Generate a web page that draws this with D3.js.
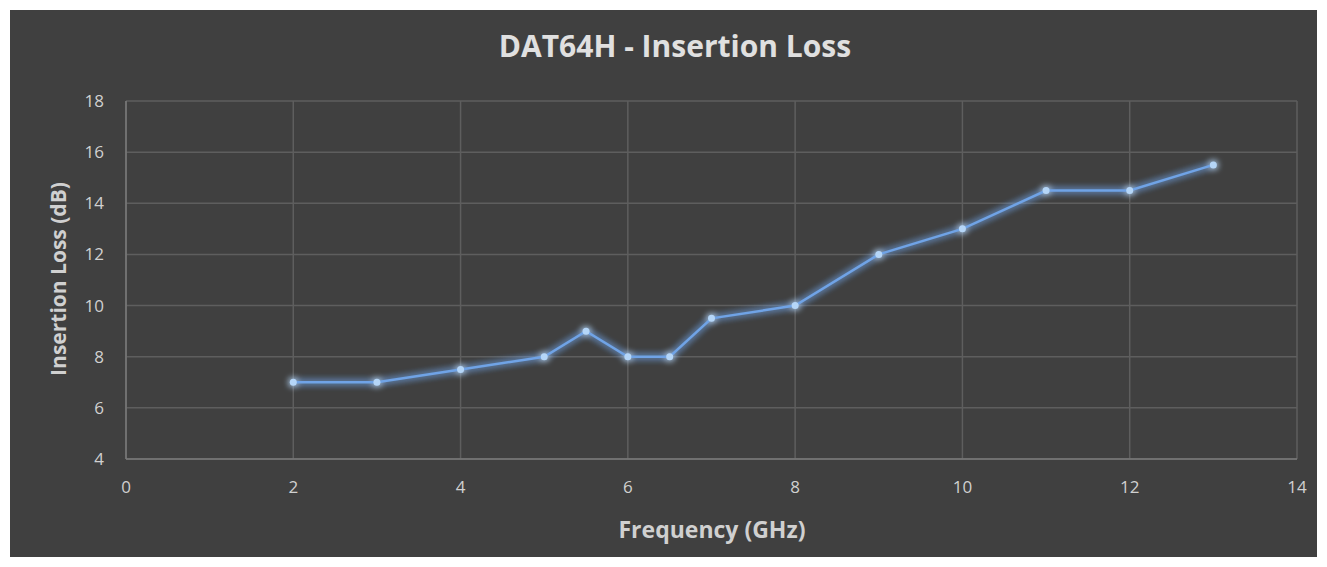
<!DOCTYPE html>
<html><head><meta charset="utf-8">
<script src="https://cdn.jsdelivr.net/npm/d3@7"></script>
<style>body{margin:0;background:#fff;}svg{display:block;}</style>
</head><body>
<script>
const freqs = [2, 3, 4, 5, 5.5, 6, 6.5, 7, 8, 9, 10, 11, 12, 13];
const loss = [7, 7, 7.5, 8, 9, 8, 8, 9.5, 10, 12, 13, 14.5, 14.5, 15.5];
const xTicks = [0, 2, 4, 6, 8, 10, 12, 14];
const yTicks = [4, 6, 8, 10, 12, 14, 16, 18];
const title = "DAT64H - Insertion Loss";
const xTitle = "Frequency (GHz)";
const yTitle = "Insertion Loss (dB)";

const W = 1327, H = 567;
const svg = d3.select("body").append("svg").attr("width", W).attr("height", H);
const defs = svg.append("defs");
const f = defs.append("filter").attr("id","glow").attr("x","-20%").attr("y","-50%").attr("width","140%").attr("height","200%");
f.append("feGaussianBlur").attr("stdDeviation",3.5).attr("result","b");
const m = f.append("feMerge");
m.append("feMergeNode").attr("in","b");
m.append("feMergeNode").attr("in","b");
m.append("feMergeNode").attr("in","SourceGraphic");

svg.append("rect").attr("x",10).attr("y",10).attr("width",1307).attr("height",547).attr("fill","#404040");

const x = d3.scaleLinear().domain([0,14]).range([126,1297]);
const y = d3.scaleLinear().domain([4,18]).range([459,101]);
const font = "'Open Sans', 'DejaVu Sans', sans-serif";

// gridlines
svg.append("g").selectAll("line").data(yTicks).join("line")
  .attr("x1",x(0)).attr("x2",x(14)).attr("y1",d=>y(d)).attr("y2",d=>y(d))
  .attr("stroke","#5e5e5e").attr("stroke-width",1.5);
svg.append("g").selectAll("line").data(xTicks).join("line")
  .attr("y1",y(4)).attr("y2",y(18)).attr("x1",d=>x(d)).attr("x2",d=>x(d))
  .attr("stroke","#5e5e5e").attr("stroke-width",1.5);
// axes lines
svg.append("line").attr("x1",x(0)).attr("x2",x(14)).attr("y1",y(4)).attr("y2",y(4)).attr("stroke","#7a7a7a").attr("stroke-width",1.5);
svg.append("line").attr("x1",x(0)).attr("x2",x(0)).attr("y1",y(4)).attr("y2",y(18)).attr("stroke","#7a7a7a").attr("stroke-width",1.5);

// tick labels
svg.append("g").selectAll("text").data(yTicks).join("text")
  .attr("x",104).attr("y",d=>y(d)).attr("dy","0.35em").attr("text-anchor","end")
  .attr("fill","#d0d0d0").attr("font-family",font).attr("font-size",17).text(d=>d);
svg.append("g").selectAll("text").data(xTicks).join("text")
  .attr("x",d=>x(d)).attr("y",493).attr("text-anchor","middle")
  .attr("fill","#d0d0d0").attr("font-family",font).attr("font-size",17).text(d=>d);

// titles
svg.append("text").attr("x",675).attr("y",57).attr("text-anchor","middle")
  .attr("fill","#e0e0e0").attr("font-family",font).attr("font-weight","bold").attr("font-size",30).text(title);
svg.append("text").attr("x",712).attr("y",538).attr("text-anchor","middle")
  .attr("fill","#d0d0d0").attr("font-family",font).attr("font-weight","bold").attr("font-size",23).text(xTitle);
svg.append("text").attr("transform","translate(66,279) rotate(-90)").attr("text-anchor","middle")
  .attr("fill","#d0d0d0").attr("font-family",font).attr("font-weight","bold").attr("font-size",21).text(yTitle);

// line
const pts = freqs.map((d,i)=>[d, loss[i]]);
const g = svg.append("g").attr("filter","url(#glow)");
g.append("path").datum(pts)
  .attr("d", d3.line().x(d=>x(d[0])).y(d=>y(d[1])))
  .attr("fill","none").attr("stroke","#6fa3e6").attr("stroke-width",2.5);
g.selectAll("circle").data(pts).join("circle")
  .attr("cx",d=>x(d[0])).attr("cy",d=>y(d[1])).attr("r",3.5).attr("fill","#b5d6f8");
</script>
</body></html>
